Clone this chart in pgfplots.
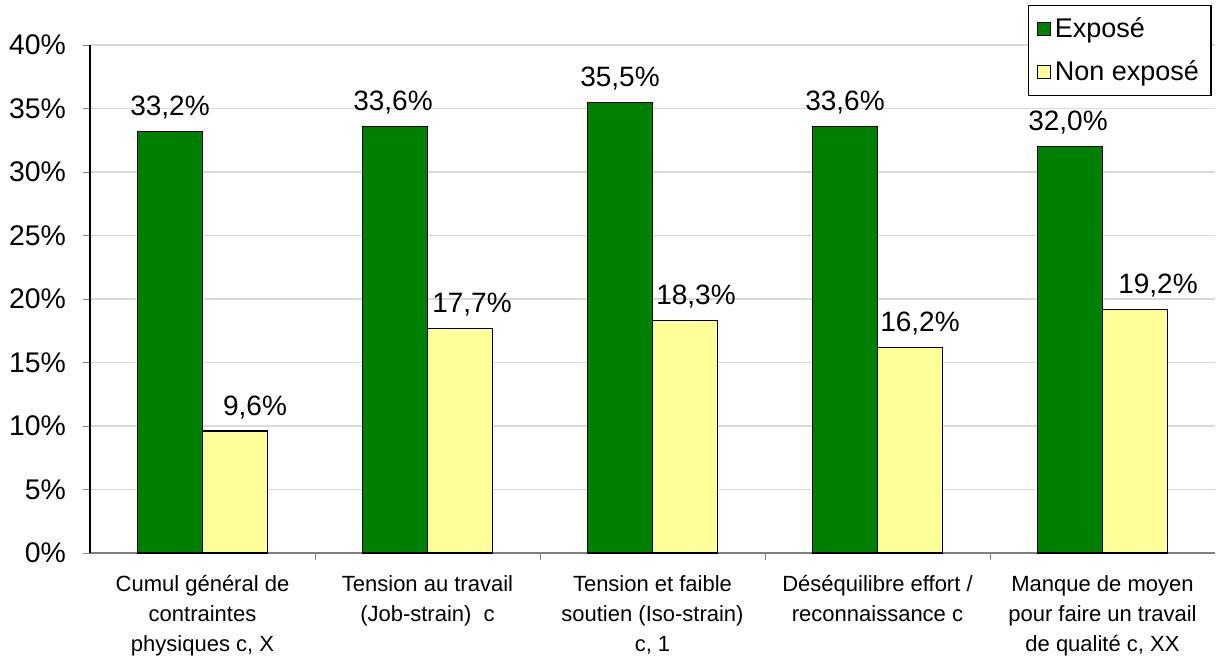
\documentclass[border=0pt]{standalone}
\usepackage{pgfplots}
\usepackage{pgfplotstable}
\pgfplotsset{compat=1.18}
\usepackage{fontspec}
\setmainfont{Liberation Sans}
\definecolor{vert}{RGB}{0,128,0}
\definecolor{jaune}{RGB}{255,255,153}
\definecolor{grille}{RGB}{217,217,217}
\definecolor{axe}{RGB}{128,128,128}

% x, valeur, decalage de l'etiquette (pt)
\pgfplotstableread{
x y dx
0 33.2 0
1 33.6 -1
2 35.5 0
3 33.6 0
4 32.0 -1
}\expose
\pgfplotstableread{
x y dx
0 9.6 10
1 17.7 6
2 18.3 5.5
3 16.2 5
4 19.2 11.5
}\nonexpose

\begin{document}
\begin{tikzpicture}
\useasboundingbox (-45pt,-52.5pt) rectangle (563.5pt,276.5pt);
\begin{axis}[
    at={(0,0)}, anchor=south west,
    scale only axis,
    width=562.5pt, height=254pt,
    ybar=0pt, bar width=32.5pt,
    xmin=-0.5, xmax=4.5, ymin=0, ymax=40,
    xtick={0,...,4},
    xticklabels={{Cumul général de\\contraintes\\physiques c, X},
                 {Tension au travail\\(Job-strain) \ c},
                 {Tension et faible\\soutien (Iso-strain)\\c, 1},
                 {Déséquilibre effort /\\reconnaissance c},
                 {Manque de moyen\\pour faire un travail\\de qualité c, XX}},
    major x tick style={draw=none},
    minor xtick={0.5,1.5,2.5,3.5},
    minor tick length=3.5pt,
    minor x tick style={axe},
    tick align=outside,
    major tick length=3.5pt,
    xticklabel style={font=\fontsize{11}{15}\selectfont, align=center, yshift=-4pt},
    ytick distance=5,
    yticklabel={\pgfmathprintnumber{\tick}\%},
    yticklabel style={font=\fontsize{14.2}{16}\selectfont, xshift=-5pt},
    /pgf/number format/assume math mode=true,
    ymajorgrids, grid style={grille, line width=0.6pt},
    axis x line*=bottom, axis y line*=left,
    x axis line style={axe, line width=0.8pt, -},
    y axis line style={black, line width=0.6pt, -},
    visualization depends on={\thisrow{dx} \as \dx},
    nodes near coords={\pgfmathprintnumber[fixed,fixed zerofill,precision=1,use comma]{\pgfplotspointmeta}\%},
    nodes near coords style={font=\fontsize{14}{16}\selectfont, anchor=base,
        yshift=8pt, xshift=\dx pt, inner sep=0pt},
    legend style={at={(axis description cs:0.997,1.079)}, anchor=north east,
        font=\fontsize{13.5}{16}\selectfont, draw=black, line width=0.6pt,
        row sep=6pt, inner xsep=4pt, inner ysep=4pt},
    legend cell align=left,
    legend image code/.code={\draw[#1, line width=0.5pt] (0pt,-3.3pt) rectangle (6.6pt,3.3pt);},
    clip=false,
]
\addplot[fill=vert, draw=black, line width=0.6pt] table[x=x, y=y] {\expose};
\addplot[fill=jaune, draw=black, line width=0.6pt] table[x=x, y=y] {\nonexpose};
\legend{Exposé, Non exposé}
\end{axis}
\end{tikzpicture}
\end{document}
